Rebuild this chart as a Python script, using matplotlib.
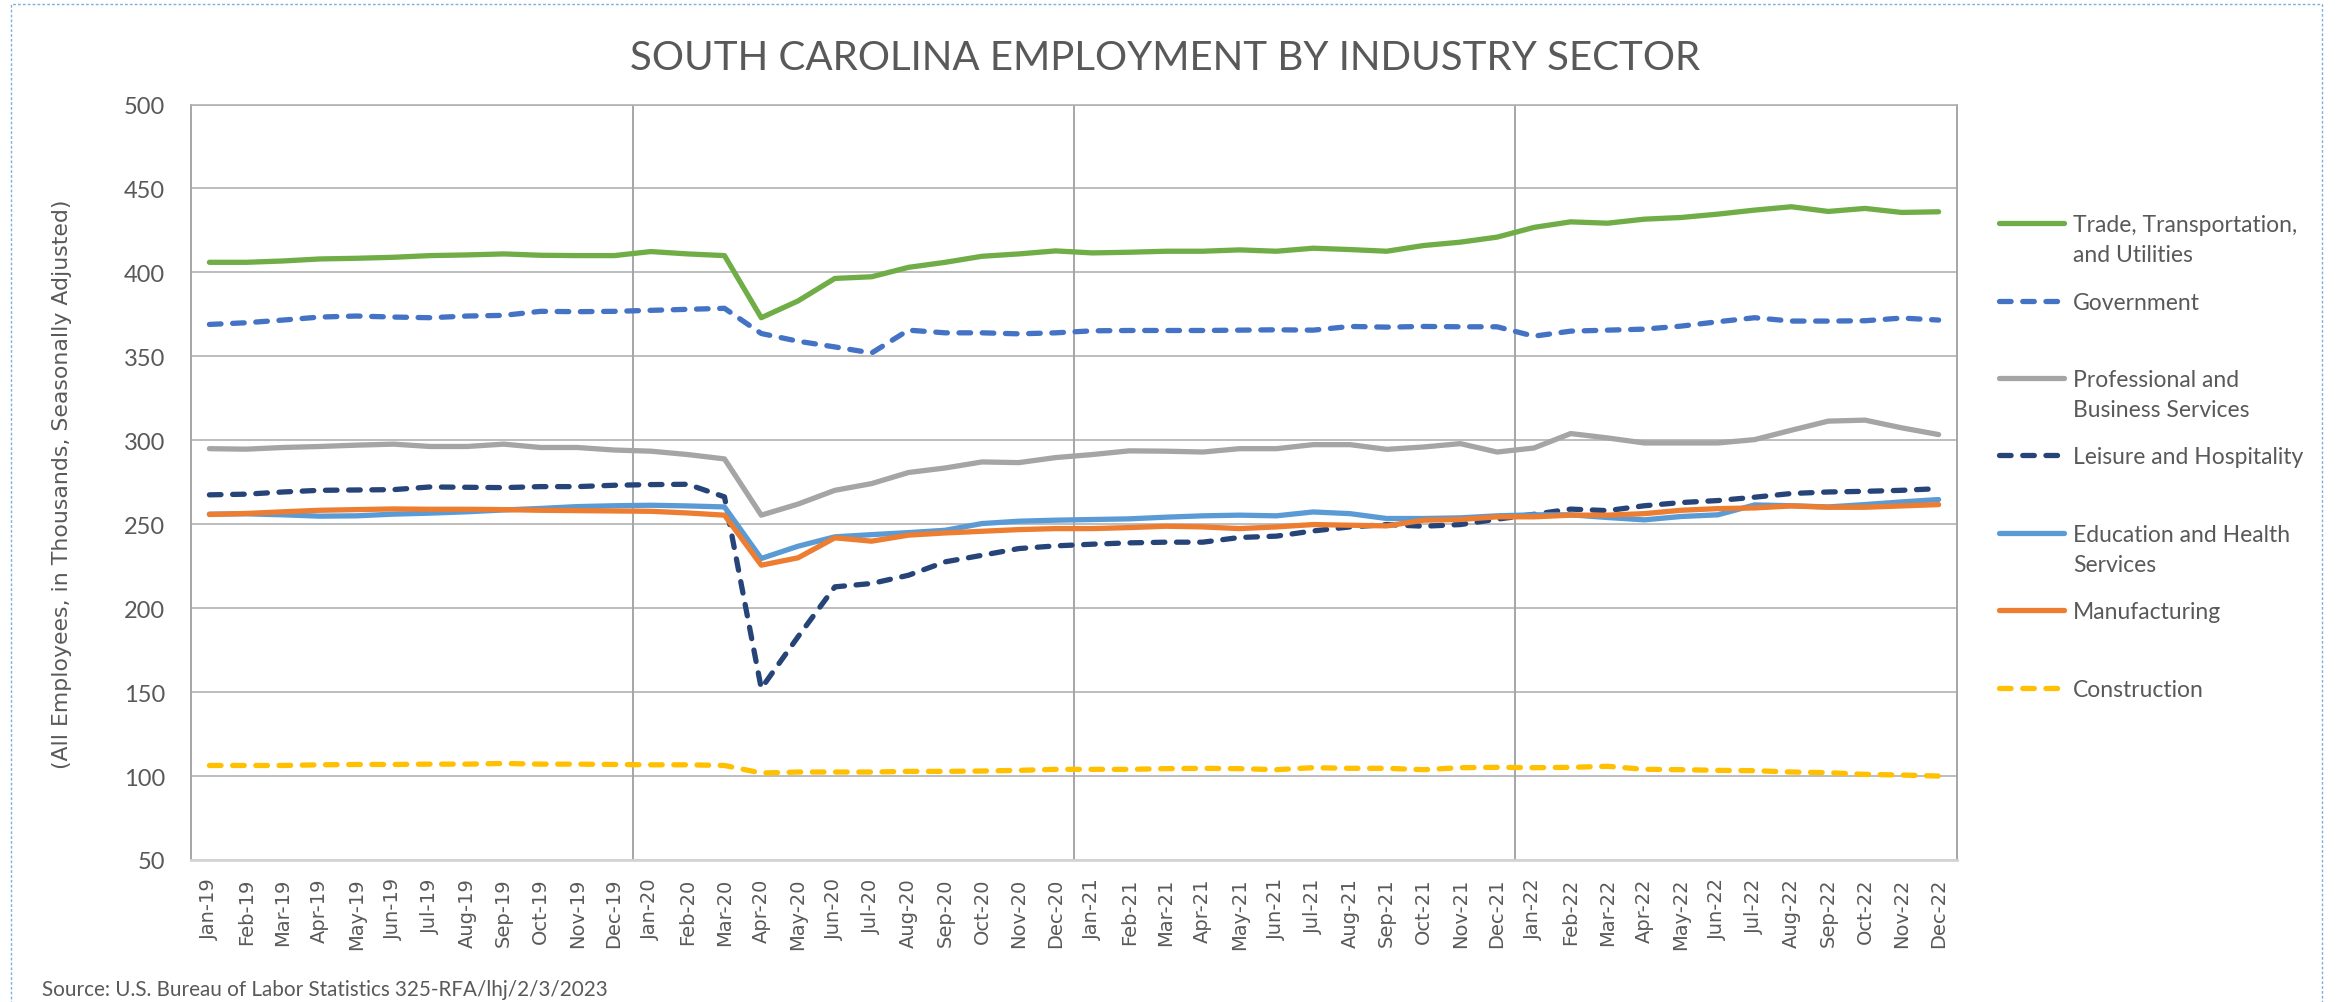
import matplotlib
matplotlib.use("Agg")
import matplotlib.pyplot as plt
from matplotlib.lines import Line2D
from matplotlib.patches import Rectangle

# ---------------- data ----------------
month_abbr = ["Jan", "Feb", "Mar", "Apr", "May", "Jun", "Jul", "Aug", "Sep", "Oct", "Nov", "Dec"]
years = ["19", "20", "21", "22"]
months = [f"{m}-{y}" for y in years for m in month_abbr]

trade = [406, 406, 406.8, 408, 408.4, 409, 410, 410.4, 411, 410.2, 410, 410,
         412.4, 411, 410, 373, 383, 396.4, 397.4, 403, 406, 409.6, 411, 412.8,
         411.6, 412, 412.6, 412.6, 413.4, 412.6, 414.4, 413.6, 412.6, 416, 418, 421,
         426.8, 430.1, 429.3, 431.7, 432.7, 434.7, 437.1, 439.1, 436.3, 438.1, 435.7, 436.1]
government = [369, 370, 371.6, 373.4, 374, 373.4, 373, 374, 374.4, 376.8, 376.6, 376.8,
              377.4, 378, 378.6, 363.6, 359, 355.6, 352, 365.6, 364, 364, 363.4, 364,
              365.2, 365.4, 365.4, 365.4, 365.6, 365.8, 365.6, 367.8, 367.4, 367.8, 367.6, 367.6,
              362, 365, 365.6, 366.2, 368, 370.6, 373, 371, 371, 371.2, 372.8, 371.6]
professional = [295, 294.7, 295.7, 296.3, 297.1, 297.7, 296.3, 296.3, 297.7, 295.7, 295.7, 294.2,
                293.5, 291.5, 288.9, 255.4, 262, 270.2, 274.2, 280.8, 283.5, 287.1, 286.7, 289.7,
                291.5, 293.7, 293.5, 293, 295, 295, 297.4, 297.4, 294.6, 296, 298, 293,
                295.4, 304, 301.4, 298.4, 298.4, 298.4, 300.4, 306, 311.4, 312, 307.4, 303.4]
leisure = [267.5, 267.9, 269.2, 270.2, 270.4, 270.6, 272.2, 272, 271.8, 272.4, 272.4, 273.2,
           273.6, 273.8, 266.3, 152.2, 183, 212.7, 214.7, 219.6, 227.6, 231.5, 235.5, 237.1,
           238.1, 238.9, 239.3, 239.3, 242.1, 242.9, 246, 248.4, 249.8, 248.8, 249.8, 253,
           255.9, 259, 258.1, 261, 262.9, 264.1, 266.1, 268.3, 269.2, 269.6, 270.2, 271.2]
education = [256, 256.2, 255.6, 254.8, 255, 256, 256.6, 257.4, 258.5, 259.4, 260.5, 261,
             261.3, 260.9, 260.3, 229.6, 236.9, 242.5, 243.8, 245, 246.4, 250.4, 251.8, 252.4,
             252.8, 253.2, 254.2, 255, 255.4, 255, 257.3, 256.3, 253.4, 253.4, 253.8, 255,
             255.6, 255.6, 254, 252.6, 254.6, 255.6, 261.5, 261, 260.3, 261.7, 263.3, 264.7]
manufacturing = [255.8, 256.4, 257.4, 258.3, 258.7, 259.1, 258.9, 258.9, 258.7, 258.3, 258.1, 257.9,
                 257.7, 256.7, 255.4, 225.6, 230, 241.9, 239.9, 243.5, 244.8, 245.8, 246.8, 247.4,
                 247.4, 248, 248.8, 248.4, 247.4, 248.4, 249.8, 249.4, 249, 252.4, 252.8, 254.4,
                 254.4, 255.4, 255.4, 256.3, 258.3, 259.3, 259.7, 260.9, 260.1, 260.1, 260.9, 261.7]
construction = [106.3, 106.3, 106.3, 106.7, 106.9, 106.9, 107.1, 107.1, 107.5, 107.1, 107.1, 106.9,
                106.7, 106.7, 106.3, 101.8, 102.4, 102.4, 102.4, 102.8, 102.8, 103, 103.4, 104,
                104, 104, 104.4, 104.6, 104.4, 103.8, 105, 104.6, 104.6, 103.8, 105, 105.2,
                105, 105.2, 105.8, 104, 103.8, 103.4, 103.2, 102.4, 102, 101, 100.6, 100]

series_labels = ["Trade, Transportation,\nand Utilities", "Government",
                 "Professional and\nBusiness Services", "Leisure and Hospitality",
                 "Education and Health\nServices", "Manufacturing", "Construction"]
series_values = [trade, government, professional, leisure, education, manufacturing, construction]
y_ticks = [50, 100, 150, 200, 250, 300, 350, 400, 450, 500]

title = "SOUTH CAROLINA EMPLOYMENT BY INDUSTRY SECTOR"
y_label = "(All Employees, in Thousands, Seasonally Adjusted)"
source = "Source: U.S. Bureau of Labor Statistics 325-RFA/lhj/2/3/2023"

# ---------------- styles ----------------
colors = ["#70AD47", "#4472C4", "#A5A5A5", "#264478", "#5B9BD5", "#ED7D31", "#FFC000"]
dashed = [False, True, False, True, False, False, True]
TXT = "#595959"
GRID = "#B2B2B2"
W, H = 2338, 1003
LW = 3.8

fig = plt.figure(figsize=(W / 100, H / 100), dpi=100)
fig.patch.set_facecolor("white")

def fx(px):
    return px / W

def fy(py):
    return 1 - py / H

ax_left, ax_right, ax_top, ax_bot = 191, 1957, 105.5, 861
ax = fig.add_axes([fx(ax_left), fy(ax_bot), fx(ax_right - ax_left), (ax_bot - ax_top) / H])

x = list(range(len(months)))
for vals, col, dsh in zip(series_values, colors, dashed):
    line, = ax.plot(x, vals, color=col, lw=LW, solid_capstyle="round",
                    solid_joinstyle="round", zorder=3)
    if dsh:
        line.set_dashes((2.2, 2.2))
        line.set_dash_capstyle("round")

ax.set_xlim(-0.5, len(months) - 0.5)
ax.set_ylim(y_ticks[0], y_ticks[-1])
ax.set_yticks(y_ticks)
ax.set_xticks(x)
ax.set_xticklabels(months, rotation=90, fontfamily="DejaVu Sans", fontsize=14, color=TXT,
                   va="top", ha="center")
ax.tick_params(axis="x", length=0, pad=12.5)
ax.tick_params(axis="y", length=0, pad=18.5, labelsize=17, labelcolor=TXT)
for lab in ax.get_yticklabels():
    lab.set_fontfamily("Lato")

ax.yaxis.grid(True, color=GRID, lw=1.2, zorder=1)
ax.set_axisbelow(True)
for b in range(12, len(months), 12):
    ax.axvline(b - 0.5, color="#A6A6A6", lw=1.4, zorder=1)
for s in ["left", "right"]:
    ax.spines[s].set_color("#A6A6A6")
    ax.spines[s].set_linewidth(1.4)
ax.spines["top"].set_color(GRID)
ax.spines["top"].set_linewidth(1.2)
ax.spines["bottom"].set_color("#D4D4D4")
ax.spines["bottom"].set_linewidth(2.0)

# title
fig.text(fx(1165.5), fy(70), title, ha="center", va="baseline", fontsize=29,
         fontfamily="Lato", fontweight="normal", color=TXT)

# y label
fig.text(fx(62), fy(484.5), y_label, rotation=90, ha="center", va="center",
         fontsize=15.8, fontfamily="DejaVu Sans", color=TXT)

# source
fig.text(fx(42), fy(996), source, ha="left", va="baseline", fontsize=14.9,
         fontfamily="Lato", color=TXT)

# legend (manual, right side)
leg_y = [224, 302, 379, 456, 534, 611, 689]
for lab, col, dsh, yy in zip(series_labels, colors, dashed, leg_y):
    ln = Line2D([fx(1999), fx(2064)], [fy(yy), fy(yy)], transform=fig.transFigure,
                color=col, lw=LW, solid_capstyle="round")
    if dsh:
        ln.set_dashes((2.2, 2.2))
        ln.set_dash_capstyle("round")
    fig.add_artist(ln)
    for k, part in enumerate(lab.split("\n")):
        fig.text(fx(2073), fy(yy + 8 + 30 * k), part, ha="left", va="baseline",
                 fontsize=16.5, fontfamily="Lato", color=TXT)

# dashed outer border
border = Rectangle((fx(11), fy(1010)), fx(2322 - 11), (1010 - 5) / H,
                   transform=fig.transFigure, fill=False, edgecolor="#7EB0DE",
                   lw=1.0, linestyle=(0, (2, 1.5)))
fig.add_artist(border)

fig.savefig("out.png", dpi=100, facecolor="white")
